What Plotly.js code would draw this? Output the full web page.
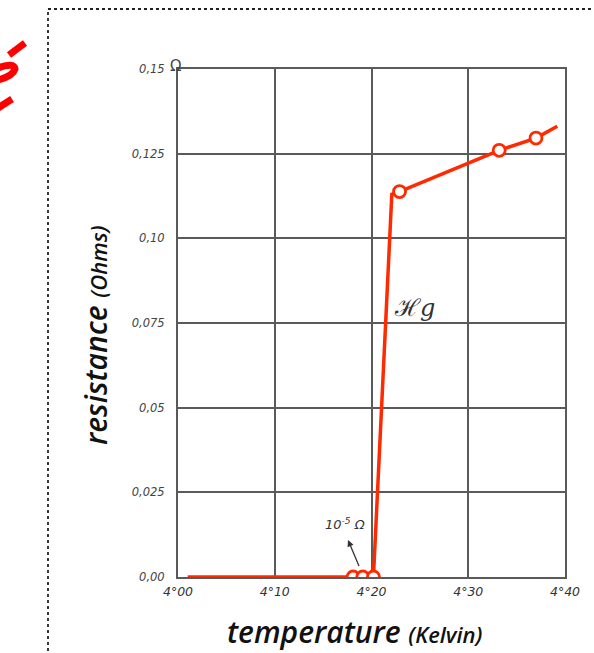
<!DOCTYPE html>
<html>
<head>
<meta charset="utf-8">
<script src="https://cdn.plot.ly/plotly-3.0.1.min.js"></script>
<style>html,body{margin:0;padding:0;background:#fff;}#chart{width:594px;height:653px;}</style>
</head>
<body>
<div id="chart"></div>
<script>
// Temperature (K) of the drawn curve vertices
var curveT = [4.010, 4.181, 4.191, 4.202, 4.221, 4.229, 4.332, 4.370, 4.392];
// Resistance (Ohms) of the drawn curve vertices
var curveR = [0, 0, 0, 0, 0.1130, 0.1138, 0.1260, 0.1296, 0.1331];
// Measured points (open circles)
var measT = [4.181, 4.191, 4.202, 4.229, 4.332, 4.370];
var measR = [0, 0, 0, 0.1138, 0.1260, 0.1296];
// Axis ticks
var xTickVals = [4.00, 4.10, 4.20, 4.30, 4.40];
var xTickText = ["4°00", "4°10", "4°20", "4°30", "4°40"];
var yTickVals = [0, 0.025, 0.05, 0.075, 0.10, 0.125, 0.15];
var yTickText = ["0,00", "0,025", "0,05", "0,075", "0,10", "0,125", "0,15"];

var W = 594, H = 653, L = 178, R = 29, T = 69, B = 76;
var pw = W - L - R, ph = H - T - B;
function px(x){ return (x - L) / pw; }
function py(y){ return (H - B - y) / ph; }

var red = '#ff2a00';
var traces = [
  {x: curveT, y: curveR, mode: 'lines', line: {color: red, width: 3.5}, hoverinfo: 'skip', showlegend: false},
  {x: measT, y: measR, mode: 'markers', marker: {size: 12, color: '#ffffff', line: {color: red, width: 2.8}}, showlegend: false}
];

var grid = '#5a5a5a';
var layout = {
  width: W, height: H,
  margin: {l: L, r: R, t: T, b: B},
  paper_bgcolor: '#ffffff', plot_bgcolor: '#ffffff',
  showlegend: false,
  xaxis: {
    range: [4.0, 4.4], tickvals: xTickVals, ticktext: xTickText,
    showgrid: true, gridcolor: grid, gridwidth: 2, zeroline: false,
    showline: true, mirror: true, linecolor: grid, linewidth: 2,
    ticks: '', ticklabelstandoff: 2,
    tickfont: {family: 'DejaVu Sans', size: 12.5, color: '#333', style: 'italic'},
    fixedrange: true
  },
  yaxis: {
    range: [0, 0.15], tickvals: yTickVals, ticktext: yTickText,
    showgrid: true, gridcolor: grid, gridwidth: 2, zeroline: false,
    showline: true, mirror: true, linecolor: grid, linewidth: 2,
    ticks: '', ticklabelstandoff: 9,
    tickfont: {family: 'DejaVu Sans', size: 11.5, color: '#444', style: 'italic'},
    fixedrange: true
  },
  annotations: [
    {xref: 'paper', yref: 'paper', x: px(355), y: py(631), text: 'temperature <span style="font-size:22px">(Kelvin)</span>',
     showarrow: false, xanchor: 'center', yanchor: 'middle', borderpad: 0,
     font: {family: 'Open Sans', size: 30, color: '#111', style: 'italic', weight: 600}},
    {xref: 'paper', yref: 'paper', x: px(95), y: py(335), text: 'resistance <span style="font-size:22px">(Ohms)</span>',
     showarrow: false, textangle: -90, xanchor: 'center', yanchor: 'middle', borderpad: 0,
     font: {family: 'Open Sans', size: 30, color: '#111', style: 'italic', weight: 600}},
    {xref: 'paper', yref: 'paper', x: px(168), y: py(66), text: 'Ω', showarrow: false, xanchor: 'left', yanchor: 'middle',
     font: {family: 'DejaVu Sans', size: 15, color: '#444'}},
    {xref: 'paper', yref: 'paper', x: px(414), y: py(308), text: 'ℋ<i>g</i>', showarrow: false, xanchor: 'center', yanchor: 'middle',
     font: {family: 'DejaVu Serif', size: 24, color: '#333'}},
    {xref: 'paper', yref: 'paper', x: px(345), y: py(524), text: '10<sup>-5</sup> Ω', showarrow: false, xanchor: 'center', yanchor: 'middle',
     font: {family: 'DejaVu Sans', size: 13, color: '#333', style: 'italic'}},
    {x: 4.0 + (348 - 178) / 387 * 0.4, y: (577 - 540) / 508 * 0.15, text: ' ', showarrow: true,
     ax: 14, ay: 33, arrowhead: 2, arrowsize: 1, arrowwidth: 1.3, arrowcolor: '#333'}
  ],
  shapes: [
    {type: 'rect', xref: 'paper', yref: 'paper', x0: px(48), x1: px(620), y0: py(680), y1: py(9),
     line: {color: '#222', width: 1.8, dash: 'dot'}, layer: 'below'},
    {type: 'path', xref: 'paper', yref: 'paper',
     path: 'M ' + px(25) + ' ' + py(43) + ' L ' + px(9) + ' ' + py(55),
     line: {color: '#ff0000', width: 7}},
    {type: 'path', xref: 'paper', yref: 'paper',
     path: 'M ' + px(-2) + ' ' + py(68) + ' Q ' + px(14) + ' ' + py(62) + ' ' + px(15) + ' ' + py(69) +
           ' Q ' + px(13) + ' ' + py(76) + ' ' + px(-2) + ' ' + py(80),
     line: {color: '#ff0000', width: 7}},
    {type: 'path', xref: 'paper', yref: 'paper',
     path: 'M ' + px(12) + ' ' + py(99) + ' L ' + px(-2) + ' ' + py(108),
     line: {color: '#ff0000', width: 7}}
  ]
};

Plotly.newPlot('chart', traces, layout, {displayModeBar: false, staticPlot: true});
</script>
</body>
</html>
